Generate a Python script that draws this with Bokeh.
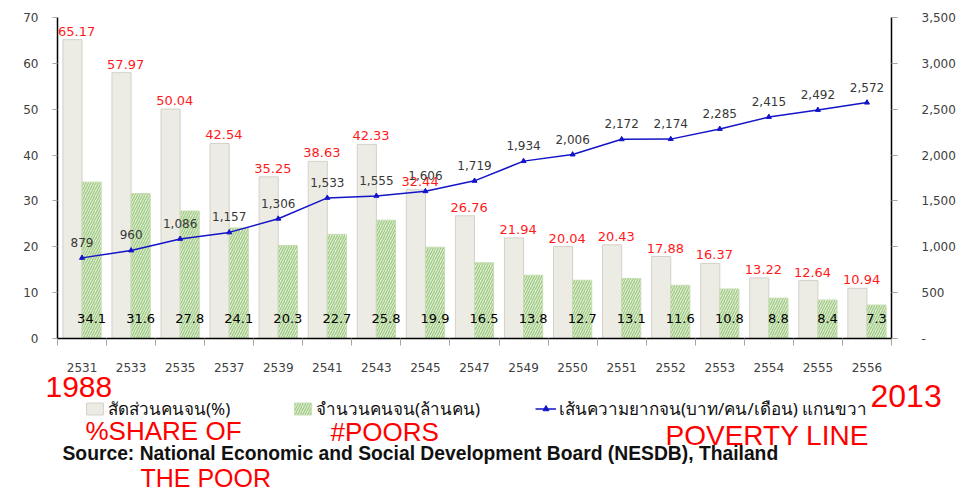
from bokeh.plotting import figure
from bokeh.models import (Range1d, LinearAxis, FixedTicker, SingleIntervalTicker, Grid,
                          NumeralTickFormatter, Label, Legend, LegendItem, ColumnDataSource)
from bokeh.core.properties import value
from bokeh.transform import dodge
from bokeh.embed import file_html
from bokeh.resources import INLINE

years = ["2531", "2533", "2535", "2537", "2539", "2541", "2543", "2545", "2547",
         "2549", "2550", "2551", "2552", "2553", "2554", "2555", "2556"]
share_pct = [65.17, 57.97, 50.04, 42.54, 35.25, 38.63, 42.33, 32.44, 26.76,
             21.94, 20.04, 20.43, 17.88, 16.37, 13.22, 12.64, 10.94]
poor_mn = [34.1, 31.6, 27.8, 24.1, 20.3, 22.7, 25.8, 19.9, 16.5,
           13.8, 12.7, 13.1, 11.6, 10.8, 8.8, 8.4, 7.3]
pov_line = [879, 960, 1086, 1157, 1306, 1533, 1555, 1606, 1719,
            1934, 2006, 2172, 2174, 2285, 2415, 2492, 2572]

n = len(years)
xc = [i + 0.5 for i in range(n)]
src = ColumnDataSource(dict(
    x=xc, share=share_pct, poor=poor_mn, line=pov_line, zero=[0] * n,
    share_lbl=[f"{v:.2f}" for v in share_pct],
    poor_lbl=[f"{v:.1f}" for v in poor_mn],
    line_lbl=[f"{v:,}" for v in pov_line],
))

FONT = value("DejaVu Sans")

# layout (pixels); the frame covers the whole canvas, axes sit at fixed locations
W, H = 970, 490
X0, X1 = 57, 891                  # pixel columns of the left / right axes
Y70, Y0 = 17, 338                 # pixel rows of value 70 and value 0
LMAX, RMAX = 70, 3500
pxc = (X1 - X0) / n
pxv = (Y0 - Y70) / LMAX

p = figure(width=W, height=H,
           x_range=Range1d(-X0 / pxc, n + (W - X1) / pxc),
           y_range=Range1d(-(H - Y0) / pxv, LMAX + Y70 / pxv),
           output_backend="svg", toolbar_location=None,
           x_axis_location=None, y_axis_location=None,
           min_border_left=0, min_border_right=0, min_border_top=0, min_border_bottom=0)
rscale = RMAX / LMAX
p.extra_y_ranges = {"r": Range1d(-(H - Y0) / pxv * rscale, (LMAX + Y70 / pxv) * rscale)}
p.outline_line_color = None
for g in p.select(type=Grid):
    g.visible = False

gray = p.vbar(x=dodge("x", -0.195), top="share", width=0.39, source=src,
              fill_color="#ecebe4", line_color="#d3d1ca", line_width=1)
green = p.vbar(x=dodge("x", 0.195), top="poor", width=0.39, source=src,
               fill_color="#e4f0dc", line_color="#c6ddb3", line_width=1,
               hatch_pattern="/", hatch_color="#9fca82", hatch_scale=5, hatch_weight=1.3)
ln = p.line("x", "line", y_range_name="r", source=src, line_color="#1414c8", line_width=1.5)
mk = p.scatter("x", "line", y_range_name="r", source=src, marker="triangle", size=5,
               fill_color="#1414c8", line_color="#1414c8")

p.text(x=dodge("x", -0.11), y="share", text="share_lbl", source=src,
       text_align="center", text_baseline="bottom", y_offset=-4,
       text_color="#ff1a1a", text_font=FONT, text_font_size="13px")
p.text(x=dodge("x", 0.195), y="zero", text="poor_lbl", source=src,
       text_align="center", text_baseline="middle", y_offset=-20,
       text_color="#000000", text_font=FONT, text_font_size="13px")
p.text(x="x", y="line", text="line_lbl", source=src, y_range_name="r",
       text_align="center", text_baseline="bottom", y_offset=-11,
       text_color="#383838", text_font=FONT, text_font_size="12px")


def style_axis(ax, standoff):
    ax.axis_line_color = "black"
    ax.axis_line_width = 1.5
    ax.major_label_standoff = standoff
    ax.major_label_text_font = "DejaVu Sans"
    ax.major_label_text_font_size = "12px"
    ax.major_label_text_color = "#404040"


xa = LinearAxis(fixed_location=0, bounds=(0, n))
xa.ticker = FixedTicker(ticks=xc, minor_ticks=list(range(n + 1)))
xa.major_label_overrides = {x: y for x, y in zip(xc, years)}
xa.major_tick_line_color = None
xa.minor_tick_line_color = "#a6a6a6"
xa.minor_tick_out = 7
xa.minor_tick_in = 0
style_axis(xa, 17)
p.add_layout(xa, "below")

ya = LinearAxis(fixed_location=0, bounds=(0, LMAX), ticker=SingleIntervalTicker(interval=10))
ya.major_tick_line_color = "#a6a6a6"
ya.major_tick_out = 5
ya.major_tick_in = 0
ya.minor_tick_line_color = None
style_axis(ya, 14)
p.add_layout(ya, "left")

ra = LinearAxis(fixed_location=n, y_range_name="r", bounds=(0, RMAX),
                ticker=SingleIntervalTicker(interval=500),
                formatter=NumeralTickFormatter(format="0,0"))
ra.major_label_overrides = {0: "-"}
ra.major_tick_line_color = "#a6a6a6"
ra.major_tick_out = 6
ra.major_tick_in = 0
ra.minor_tick_line_color = None
style_axis(ra, 24)
p.add_layout(ra, "right")


def sx(px):
    return px


def sy(py):
    return H - py


def mk_legend(label, rends, x0):
    lg = Legend(items=[LegendItem(label=label, renderers=rends)],
                location=(sx(x0), sy(422)),
                orientation="horizontal", border_line_color=None,
                background_fill_alpha=0, padding=0, margin=0,
                glyph_width=21, glyph_height=15, label_standoff=3, label_height=15,
                label_text_font_size="17px", label_text_color="#111111",
                label_text_font="Noto Sans")
    p.add_layout(lg)


mk_legend("สัดส่วนคนจน(%)", [gray], 84)
mk_legend("จำนวนคนจน(ล้านคน)", [green], 292)
mk_legend("เส้นความยากจน(บาท/คน/เดือน) แกนขวา", [ln, mk], 535)

p.add_layout(Label(x=sx(62), y=sy(453), x_units="screen", y_units="screen",
                   text="Source: National Economic and Social Development Board (NESDB), Thailand",
                   text_font="Liberation Sans", text_font_style="bold",
                   text_font_size="19.3px", text_baseline="middle", text_color="#111111"))

# handwritten notes
notes = [("1988", 45, 386, "30px"), ("2013", 870, 395, "32px"),
         ("%SHARE OF", 85, 430, "26px"), ("THE POOR", 140, 477, "25px"),
         ("#POORS", 330, 431, "26px"), ("POVERTY LINE", 665, 435, "28px")]
for t, x, y, fs in notes:
    p.add_layout(Label(x=sx(x), y=sy(y), x_units="screen", y_units="screen", text=t,
                       text_font="Liberation Sans", text_font_size=fs,
                       text_color="#ff0000", text_baseline="middle"))

open("out.html", "w").write(file_html(p, INLINE))
